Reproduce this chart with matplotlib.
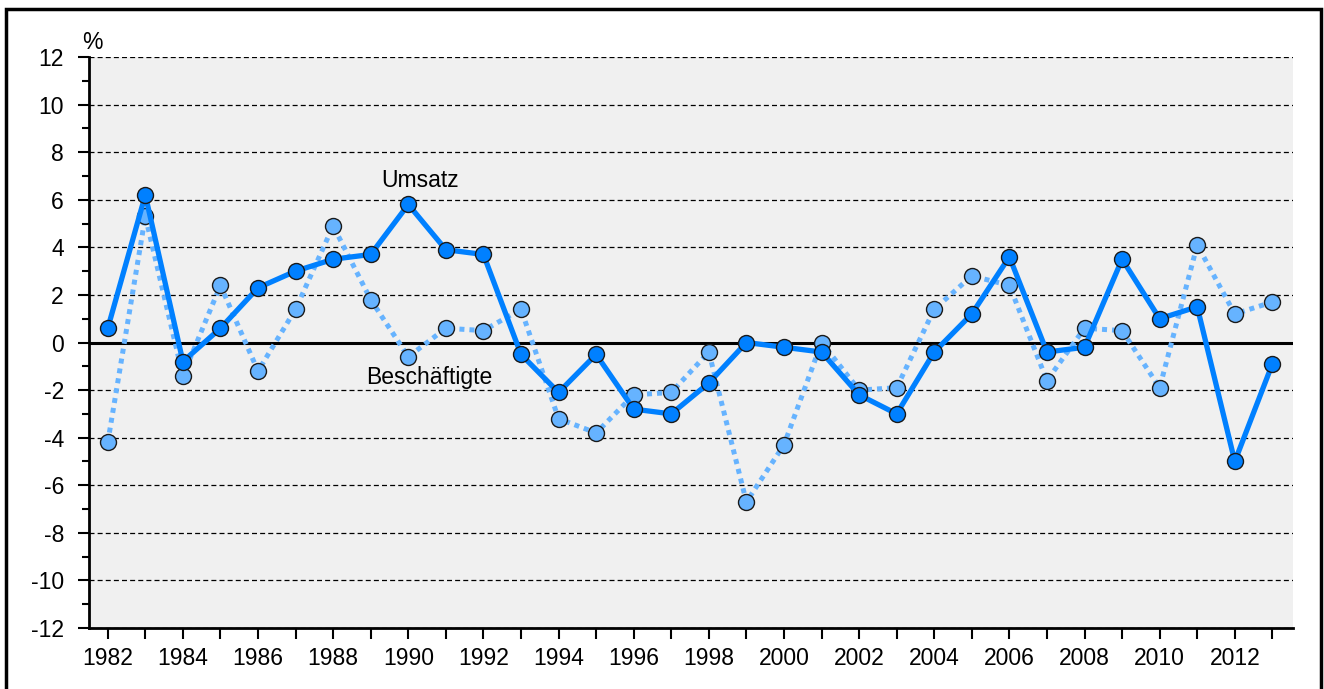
import matplotlib
matplotlib.use("Agg")
import matplotlib.pyplot as plt
from matplotlib.patches import Rectangle
from matplotlib.ticker import MultipleLocator

plt.rcParams["font.family"] = ["Liberation Sans Narrow", "Liberation Sans", "DejaVu Sans"]
plt.rcParams["axes.unicode_minus"] = False

years = list(range(1982, 2014))
umsatz = [0.6, 6.2, -0.8, 0.6, 2.3, 3.0, 3.5, 3.7, 5.8, 3.9, 3.7, -0.5, -2.1, -0.5,
          -2.8, -3.0, -1.7, 0.0, -0.2, -0.4, -2.2, -3.0, -0.4, 1.2, 3.6, -0.4, -0.2,
          3.5, 1.0, 1.5, -5.0, -0.9]
beschaeftigte = [-4.2, 5.3, -1.4, 2.4, -1.2, 1.4, 4.9, 1.8, -0.6, 0.6, 0.5, 1.4, -3.2,
                 -3.8, -2.2, -2.1, -0.4, -6.7, -4.3, 0.0, -2.0, -1.9, 1.4, 2.8, 2.4,
                 -1.6, 0.6, 0.5, -1.9, 4.1, 1.2, 1.7]
year_labels = [str(y) if y % 2 == 0 else "" for y in years]

DARK = "#0080ff"
LIGHT = "#66b3ff"
FS = 16.5

fig = plt.figure(figsize=(13.24, 6.89), dpi=100)
ax = fig.add_axes([0.0672, 0.0885, 0.9094, 0.8288])
ax.set_facecolor("#f0f0f0")

# outer frame
fig.patches.append(Rectangle((0.0045, -0.02), 0.9935, 1.007, transform=fig.transFigure,
                             fill=False, edgecolor="black", linewidth=2.5, zorder=0))

for v in range(-12, 13, 2):
    if v == 0:
        ax.axhline(0, color="black", lw=2.2, zorder=1)
    else:
        ax.axhline(v, color="black", lw=0.9, ls=(0, (4, 2.5)), zorder=1)

ax.plot(years, beschaeftigte, color=LIGHT, lw=3.6, ls=(0, (1, 1)), zorder=2,
        dash_capstyle="butt")
ax.plot(years, beschaeftigte, ls="none", marker="o", ms=11.5, mfc=LIGHT,
        mec="#1a1a1a", mew=1.0, zorder=3)
ax.plot(years, umsatz, color=DARK, lw=3.8, zorder=4)
ax.plot(years, umsatz, ls="none", marker="o", ms=11.5, mfc=DARK,
        mec="#1a1a1a", mew=1.0, zorder=5)

ax.text(1990.3, 6.8, "Umsatz", fontsize=FS, ha="center", va="center", zorder=6)
ax.text(1990.55, -1.45, "Beschäftigte", fontsize=FS, ha="center", va="center", zorder=6)

ax.set_xlim(1981.5, 2013.55)
ax.set_ylim(-12, 12)
ax.set_xticks(years)
ax.set_xticklabels(year_labels)
ax.yaxis.set_major_locator(MultipleLocator(2))
ax.yaxis.set_minor_locator(MultipleLocator(1))
ax.tick_params(axis="both", which="major", labelsize=FS, length=8, width=1.5,
               direction="out", pad=6)
ax.tick_params(axis="y", which="minor", length=5, width=1.5, direction="out")
ax.tick_params(axis="y", pad=10)
for s in ["top", "right"]:
    ax.spines[s].set_visible(False)
for s in ["left", "bottom"]:
    ax.spines[s].set_linewidth(2)

ax.text(0.003, 1.006, "%", transform=ax.transAxes, fontsize=FS, ha="center", va="bottom")

fig.savefig("out.png", dpi=100)
